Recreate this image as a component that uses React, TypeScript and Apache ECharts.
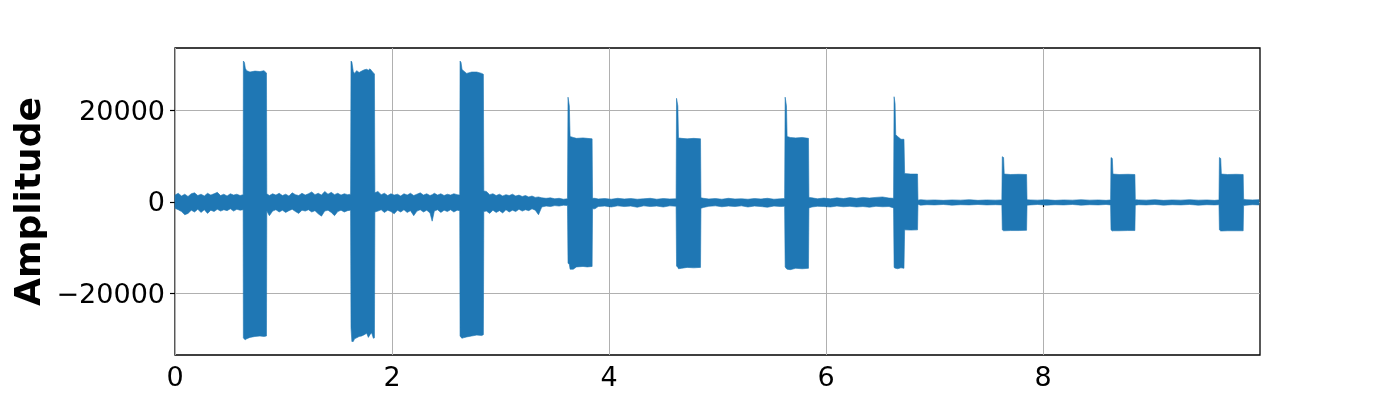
import { useEffect, useRef } from 'react'
import * as echarts from 'echarts'

const xTicks = [0, 2, 4, 6, 8]
const yTicks = [-20000, 0, 20000]

// every row: [time (s), upper envelope, lower envelope]
const noiseA = [
  [0.0, 1500, -1400], [0.03, 1900, -1700], [0.06, 1300, -2100], [0.09, 1700, -2800],
  [0.12, 1200, -2500], [0.15, 1800, -1800], [0.18, 2000, -2200], [0.21, 1400, -1600],
  [0.24, 1700, -2300], [0.27, 1300, -1700], [0.3, 1900, -2500], [0.33, 1500, -1800],
  [0.36, 1800, -2100], [0.39, 2100, -1600], [0.42, 1400, -2000], [0.45, 1700, -1700],
  [0.48, 1300, -1900], [0.51, 1800, -1500], [0.54, 1500, -2000], [0.57, 1700, -1600],
  [0.6, 1400, -1800], [0.628, 1600, -1700],
]
const burst1 = [
  [0.63, 30800, -29700], [0.64, 30500, -30000], [0.648, 29200, -30100], [0.661, 28700, -29900],
  [0.691, 28400, -29600], [0.737, 28600, -29400], [0.783, 28500, -29300], [0.82, 28700, -29400],
  [0.843, 28200, -29300], [0.846, 1800, -2000],
]
const noiseB = [
  [0.87, 1400, -3000], [0.9, 1800, -2000], [0.93, 1500, -1700], [0.96, 1900, -2200],
  [0.99, 1400, -1800], [1.02, 1700, -2300], [1.05, 1300, -1900], [1.08, 2000, -1600],
  [1.11, 1600, -2100], [1.14, 1400, -2500], [1.17, 1900, -1800], [1.2, 1500, -2000],
  [1.23, 1800, -1700], [1.26, 2200, -2200], [1.29, 1600, -1900], [1.32, 1900, -2600],
  [1.35, 1500, -3100], [1.38, 2300, -2000], [1.41, 1700, -1800], [1.44, 2100, -2300],
  [1.47, 1600, -3000], [1.5, 1900, -2100], [1.53, 1500, -1800], [1.56, 1800, -2200],
  [1.59, 1600, -1900], [1.618, 1700, -1800],
]
const burst2 = [
  [1.622, 30800, -27500], [1.63, 30600, -30500], [1.643, 28500, -30500], [1.655, 28100, -29900],
  [1.674, 28700, -29700], [1.697, 28300, -29400], [1.72, 28600, -29300], [1.745, 28900, -29000],
  [1.766, 29000, -28700], [1.782, 28800, -29600], [1.797, 29100, -29000], [1.812, 28700, -28600],
  [1.828, 28200, -29800], [1.838, 28000, -29700], [1.842, 2000, -2200],
]
const noiseC = [
  [1.87, 2300, -2000], [1.9, 1600, -1700], [1.93, 1900, -2300], [1.96, 1400, -1800],
  [1.99, 1800, -2100], [2.02, 1500, -2600], [2.05, 1700, -1800], [2.08, 1300, -2200],
  [2.11, 1800, -1700], [2.14, 1500, -2300], [2.17, 1900, -1900], [2.2, 1400, -3000],
  [2.23, 1700, -2000], [2.26, 2000, -1700], [2.29, 1500, -2200], [2.32, 1800, -1800],
  [2.35, 1400, -2400], [2.37, 1600, -4200], [2.39, 1900, -2000], [2.42, 1500, -1700],
  [2.45, 1800, -2300], [2.48, 1400, -1800], [2.51, 1700, -2100], [2.54, 1500, -1700],
  [2.57, 1800, -2200], [2.6, 1600, -1800], [2.624, 1500, -1900],
]
const burst3 = [
  [2.627, 30800, -29300], [2.636, 30500, -29600], [2.645, 29000, -29800], [2.657, 28700, -29700],
  [2.688, 28100, -29500], [2.734, 28400, -29300], [2.781, 28400, -29100], [2.827, 28100, -29200],
  [2.842, 27900, -29000], [2.846, 2400, -2100],
]
const noiseD = [
  [2.87, 2300, -2000], [2.9, 1600, -2500], [2.93, 1800, -1800], [2.96, 1400, -2300],
  [2.99, 1700, -1900], [3.02, 1300, -2400], [3.05, 1600, -1700], [3.08, 1400, -2200],
  [3.11, 1700, -1800], [3.14, 1300, -2100], [3.17, 1500, -1600], [3.2, 1200, -2000],
  [3.23, 1400, -1700], [3.26, 1100, -1900], [3.29, 1300, -1500], [3.32, 1000, -1800],
  [3.35, 1100, -2800], [3.38, 900, -1100], [3.42, 800, -900], [3.46, 900, -1000],
  [3.5, 700, -800], [3.54, 800, -900], [3.58, 600, -700], [3.617, 700, -800],
]
const burst4 = [
  [3.622, 22900, -13400], [3.634, 21000, -13600], [3.641, 14300, -14700], [3.67, 14100, -14700],
  [3.7, 13900, -14200], [3.76, 14000, -14100], [3.8, 13900, -14200], [3.844, 13800, -14100],
  [3.848, 800, -1500],
]
const noiseE = [
  [3.87, 800, -1500], [3.9, 650, -1000], [3.96, 750, -900], [4.02, 600, -1100],
  [4.08, 800, -850], [4.14, 650, -1000], [4.2, 750, -900], [4.26, 600, -1150],
  [4.32, 700, -850], [4.38, 800, -1000], [4.44, 600, -900], [4.5, 750, -1100],
  [4.56, 650, -850], [4.618, 700, -950],
]
const burst5 = [
  [4.622, 22650, -14000], [4.634, 21000, -14300], [4.64, 14000, -14600], [4.67, 13900, -14500],
  [4.72, 13800, -14300], [4.78, 13900, -14400], [4.843, 13800, -14300], [4.847, 900, -1400],
]
const noiseF = [
  [4.87, 800, -1200], [4.92, 650, -950], [4.98, 750, -850], [5.04, 600, -1050],
  [5.1, 800, -900], [5.16, 650, -1000], [5.22, 700, -850], [5.28, 600, -1100],
  [5.34, 750, -900], [5.4, 650, -1000], [5.46, 800, -1150], [5.52, 600, -900],
  [5.58, 700, -1000], [5.618, 750, -950],
]
const burst6 = [
  [5.623, 22900, -14200], [5.635, 21000, -14600], [5.641, 14300, -14700], [5.67, 14100, -14800],
  [5.72, 14000, -14500], [5.78, 14100, -14600], [5.838, 13900, -14500], [5.842, 1000, -1300],
]
const noiseG = [
  [5.87, 900, -1100], [5.92, 700, -950], [5.98, 850, -1000], [6.04, 700, -1100],
  [6.1, 900, -900], [6.16, 750, -1050], [6.22, 950, -950], [6.28, 800, -1100],
  [6.34, 1000, -1000], [6.4, 850, -1150], [6.46, 1000, -950], [6.52, 1100, -1050],
  [6.58, 850, -1000], [6.622, 800, -1300],
]
const burst7 = [
  [6.627, 23000, -14300], [6.636, 21500, -14500], [6.642, 14700, -14500], [6.66, 14300, -14600],
  [6.69, 13700, -14400], [6.718, 13700, -14500], [6.724, 6200, -6100], [6.78, 6100, -6150],
  [6.843, 6100, -6100], [6.847, 400, -500],
]
const noiseH = [
  [6.87, 500, -700], [6.93, 400, -600], [7.0, 450, -650], [7.08, 350, -550],
  [7.16, 450, -700], [7.24, 400, -600], [7.32, 500, -650], [7.4, 350, -550],
  [7.48, 450, -650], [7.56, 400, -600], [7.62, 450, -650],
]
const burst8 = [
  [7.624, 9900, -6100], [7.636, 9700, -6300], [7.642, 6100, -6300], [7.7, 6000, -6250],
  [7.78, 6050, -6250], [7.848, 6000, -6200], [7.852, 500, -700],
]
const noiseI = [
  [7.88, 450, -650], [7.95, 400, -550], [8.03, 500, -700], [8.11, 350, -600],
  [8.19, 450, -650], [8.27, 400, -550], [8.35, 500, -700], [8.43, 400, -600],
  [8.51, 450, -650], [8.58, 350, -550], [8.622, 450, -650],
]
const burst9 = [
  [8.626, 9700, -6100], [8.638, 9500, -6350], [8.644, 6100, -6300], [8.7, 6000, -6300],
  [8.78, 6050, -6250], [8.846, 6000, -6250], [8.85, 500, -700],
]
const noiseJ = [
  [8.88, 450, -600], [8.95, 400, -650], [9.03, 500, -550], [9.11, 350, -700],
  [9.19, 450, -600], [9.27, 400, -650], [9.35, 500, -550], [9.43, 400, -700],
  [9.51, 450, -600], [9.58, 350, -650], [9.621, 450, -600],
]
const burst10 = [
  [9.625, 9700, -6100], [9.637, 9500, -6350], [9.643, 6100, -6350], [9.7, 6000, -6300],
  [9.78, 6050, -6300], [9.844, 6000, -6300], [9.848, 600, -800],
]
const noiseK = [[9.87, 500, -700], [9.93, 450, -600], [9.99, 500, -650]]

const envelope = [
  ...noiseA, ...burst1, ...noiseB, ...burst2, ...noiseC, ...burst3, ...noiseD, ...burst4,
  ...noiseE, ...burst5, ...noiseF, ...burst6, ...noiseG, ...burst7, ...noiseH, ...burst8,
  ...noiseI, ...burst9, ...noiseJ, ...burst10, ...noiseK,
]

const font = 'DejaVu Sans'

export default function App() {
  const chartRef = useRef<HTMLDivElement>(null)

  useEffect(() => {
    if (!chartRef.current) return
    const chart = echarts.init(chartRef.current, null, { renderer: 'svg' })

    chart.setOption({
      animation: false,
      textStyle: { fontFamily: font },
      grid: {
        left: 175,
        right: 140,
        top: 48,
        bottom: 45,
        show: true,
        borderColor: '#000',
        borderWidth: 1.3,
      },
      xAxis: {
        type: 'value',
        min: 0,
        max: 9.999,
        axisLine: { show: false },
        axisTick: { customValues: xTicks, length: 5, lineStyle: { color: '#000', width: 1.2 } },
        axisLabel: { customValues: xTicks, fontSize: 27, color: '#000', margin: 8, fontFamily: font },
        splitLine: { show: true, lineStyle: { color: '#b0b0b0', width: 1 } },
      },
      yAxis: {
        type: 'value',
        min: -33450,
        max: 33650,
        name: 'Amplitude',
        nameLocation: 'middle',
        nameRotate: 90,
        nameGap: 128,
        nameTextStyle: { fontSize: 36, fontWeight: 'bold', color: '#000', fontFamily: font },
        axisLine: { show: false },
        axisTick: { customValues: yTicks, length: 5, lineStyle: { color: '#000', width: 1.2 } },
        axisLabel: {
          customValues: yTicks,
          fontSize: 27,
          color: '#000',
          margin: 10,
          fontFamily: font,
          formatter: (v: number) => (v < 0 ? '\u2212' + Math.abs(v) : String(v)),
        },
        splitLine: { show: true, lineStyle: { color: '#b0b0b0', width: 1 } },
      },
      series: [
        {
          type: 'custom',
          name: 'waveform',
          data: envelope,
          encode: { x: 0, y: [1, 2] },
          silent: true,
          renderItem: (params: any, api: any) => {
            if (params.dataIndex !== 0) return null
            const top = envelope.map((r) => api.coord([r[0], r[1]]))
            const bottom = envelope.map((r) => api.coord([r[0], r[2]])).reverse()
            return {
              type: 'polygon',
              shape: { points: [...top, ...bottom] },
              style: { fill: '#1f77b4', stroke: '#1f77b4', lineWidth: 0.6 },
            }
          },
        },
      ],
    })

    return () => chart.dispose()
  }, [])

  return (
    <div style={{ position: 'fixed', left: 0, top: 0, width: 1400, height: 400 }}>
      <div ref={chartRef} style={{ width: 1400, height: 400 }} />
    </div>
  )
}
